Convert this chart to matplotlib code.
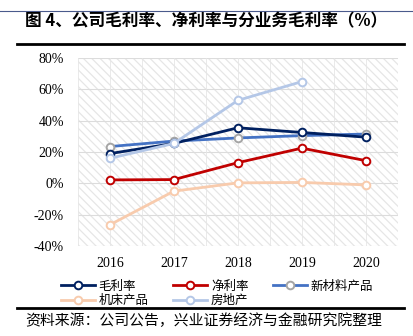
import matplotlib.pyplot as plt
import matplotlib.lines as mlines
import numpy as np

plt.rcParams['font.family'] = ['Noto Sans CJK SC', 'DejaVu Sans']
plt.rcParams['hatch.linewidth'] = 0.9

years = ['2016', '2017', '2018', '2019', '2020']
gross = [19, 25.5, 35.5, 32.5, 29.5]
net = [2.2, 2.4, 13.2, 22.5, 14.5]
materials = [23.5, 27, 29, 30.5, 31.5]
machine = [-26.5, -5, 0.3, 0.6, -1]
estate = [16, 25.5, 53, 65, np.nan]

series = [
    ('毛利率', gross, '#002060', '#002060'),
    ('净利率', net, '#C00000', '#C00000'),
    ('新材料产品', materials, '#4472C4', '#A5A5A5'),
    ('机床产品', machine, '#F8CBAD', '#F8CBAD'),
    ('房地产', estate, '#B4C7E7', '#B4C7E7'),
]

fig = plt.figure(figsize=(4.14, 3.36), dpi=100)
ax = fig.add_axes([0.188, 0.268, 0.773, 0.559])

x = np.arange(len(years))
ax.set_xlim(-0.5, len(years) - 0.5)
ax.set_ylim(-40, 80)

# hatched plot background
ax.fill_between([-0.5, len(years) - 0.5], -40, 80, facecolor='white',
                hatch='\\\\\\\\', edgecolor='#e6e6e6', linewidth=0, zorder=0)
for yv in range(-40, 81, 20):
    ax.axhline(yv, color='#dcdcdc', lw=0.8, zorder=1)
for xv in np.arange(-0.5, len(years), 0.5):
    ax.axvline(xv, color='#e6e6e6', lw=0.6, zorder=1)

handles = {}
for i in [2, 0, 4, 1, 3]:
    name, vals, lc, mc = series[i]
    ax.plot(x, vals, color=lc, lw=2.0, marker='o', ms=5.5,
            markerfacecolor='white', markeredgecolor=mc, mew=1.4, zorder=3)
for name, vals, lc, mc in series:
    handles[name] = mlines.Line2D([], [], color=lc, lw=2.0, marker='o', ms=5.5,
                                  markerfacecolor='white', markeredgecolor=mc, mew=1.4)

ax.set_xticks(x)
ax.set_xticklabels(years, family='Liberation Serif', fontsize=10)
ax.set_yticks(range(-40, 81, 20))
ax.set_yticklabels([f'{v}%' for v in range(-40, 81, 20)], family='Liberation Serif', fontsize=10)
ax.tick_params(axis='x', length=0, pad=8)
ax.tick_params(axis='y', length=0, pad=10)
for s in ax.spines.values():
    s.set_visible(False)

# legend filled column-wise, so order gives rows: 毛利率 净利率 新材料产品 / 机床产品 房地产
leg_order = ['毛利率', '机床产品', '净利率', '房地产', '新材料产品']
fig.legend([handles[n] for n in leg_order], leg_order, ncol=3, loc='upper left',
           bbox_to_anchor=(0.135, 0.182), frameon=False, fontsize=9,
           handlelength=2.7, handletextpad=0.3, columnspacing=2.0,
           labelspacing=0.1, borderaxespad=0)

# title and rules
fig.text(0.06, 0.938, '图 4、公司毛利率、净利率与分业务毛利率（%）', fontsize=12,
         fontweight='bold', va='center', ha='left')
fig.add_artist(mlines.Line2D([0.0, 1.0], [0.968, 0.968], color='#4a5a8c', lw=0.8))
fig.add_artist(mlines.Line2D([0.04, 0.975], [0.869, 0.869], color='black', lw=2.0))
fig.add_artist(mlines.Line2D([0.04, 0.975], [0.082, 0.082], color='black', lw=2.0))
fig.text(0.06, 0.045, '资料来源：公司公告，兴业证券经济与金融研究院整理', fontsize=10.7,
         va='center', ha='left')

fig.savefig('out.png', dpi=100)
